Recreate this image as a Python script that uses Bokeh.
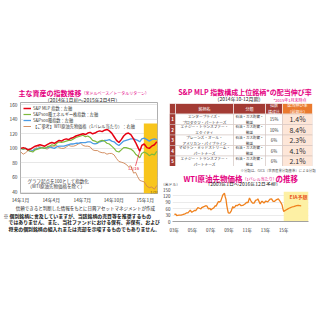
import pandas as pd
from bokeh.plotting import figure
from bokeh.models import (Range1d, Label, Legend, LegendItem, BoxAnnotation,
                          FixedTicker, Spacer, Arrow)
from bokeh.layouts import column, row
from bokeh.embed import file_html
from bokeh.resources import INLINE
from bokeh.core.properties import value

FONT = "Noto Sans CJK JP"
PINK = "#e4007f"

# ---------------- left chart data ----------------
idx_dates = ["2014-01-02","2014-01-09","2014-01-16","2014-01-23","2014-01-30",
             "2014-02-06","2014-02-13","2014-02-20","2014-02-27",
             "2014-03-06","2014-03-13","2014-03-20","2014-03-27",
             "2014-04-03","2014-04-10","2014-04-17","2014-04-24",
             "2014-05-01","2014-05-08","2014-05-15","2014-05-22","2014-05-29",
             "2014-06-05","2014-06-12","2014-06-19","2014-06-26",
             "2014-07-03","2014-07-10","2014-07-17","2014-07-24","2014-07-31",
             "2014-08-07","2014-08-14","2014-08-21","2014-08-28",
             "2014-09-04","2014-09-11","2014-09-18","2014-09-25",
             "2014-10-02","2014-10-09","2014-10-16","2014-10-23","2014-10-30",
             "2014-11-06","2014-11-13","2014-11-20","2014-11-28",
             "2014-12-04","2014-12-10","2014-12-16","2014-12-22","2014-12-29",
             "2015-01-06","2015-01-13","2015-01-20","2015-01-28","2015-02-04"]
mlp = [100,101,100,98,99, 101,103,104,105, 104,103,105,107, 108,107,109,111,
       110,112,113,112,114, 115,117,118,119, 120,119,121,122,120, 121,123,124,123,
       125,126,124,121, 116,111,108,112,117, 120,121,119,113, 108,102,96,104,106,
       101,100,103,105, 109]
energy = [100,99,100,97,96, 95,98,99,100, 101,100,102,103, 105,104,107,109,
          108,109,110,111,111, 113,115,116,117, 118,116,117,115,111, 110,108,110,111,
          110,107,106,103, 100,96,95,98,101, 101,100,99,96, 92,90,87,93,95,
          93,90,92,91, 96]
sp500 = [100,99,100,98,96, 97,99,100,101, 101,100,101,102, 101,100,102,103,
         103,103,104,105,106, 106,107,107,108, 108,108,109,109,107, 106,107,109,110,
         111,111,112,110, 109,106,104,107,110, 111,112,113,113, 112,111,109,113,114,
         112,110,112,113, 112]
wti_2014 = [95,92,94,97,98, 97,100,103,102, 101,100,99,101, 103,103,104,101,
            100,100,102,104,103, 103,104,106,107, 104,103,103,102,98, 97,97,95,94,
            94,92,93,93, 91,86,82,81,80, 78,75,76,66, 67,61,56,55,54,
            48,46,47,44, 49]
series_labels = ["S&P MLP 指数：左軸", "S&P500種エネルギー株指数：左軸",
                 "S&P500種指数：左軸", "【ご参考】WTI原油先物価格（1バレル当たり）：右軸"]
left_tick_dates = ["2014-01-01","2014-04-01","2014-07-01","2014-10-01","2015-01-01"]
left_tick_labels = ["14年1月","14年4月","14年7月","14年10月","15年1月"]
left_y_ticks = [40, 60, 80, 100, 120, 140, 160]

# ---------------- table data ----------------
ranks = ["1", "2", "3", "4", "5"]
names = ["エンタープライズ・\nプロダクツ・パートナーズ",
         "エナジー・トランスファー・\nエクイティ",
         "プレーンズ・オール・\nアメリカン・パイプライン",
         "マゼラン・ミッドストリーム・\nパートナーズ",
         "エナジー・トランスファー・\nパートナーズ"]
sectors = ["石油・ガス貯蔵・\n輸送"] * 5
weights = ["15%", "10%", "6%", "6%", "6%"]
growth = ["1.4%", "8.4%", "2.3%", "4.1%", "2.1%"]
headers = ["銘柄名", "分類", "指数\n構成比", "配当伸び率\n（前期比）"]

# ---------------- WTI long-term data ----------------
wti_dates = ["2003-01","2003-03","2003-04","2003-07","2003-10","2003-12",
             "2004-03","2004-05","2004-07","2004-08","2004-10","2004-12",
             "2005-02","2005-04","2005-05","2005-08","2005-10","2005-12",
             "2006-01","2006-04","2006-07","2006-08","2006-10","2006-12",
             "2007-01","2007-03","2007-05","2007-07","2007-08","2007-10","2007-11","2007-12",
             "2008-02","2008-03","2008-05","2008-07","2008-08","2008-09","2008-10","2008-11","2008-12",
             "2009-02","2009-04","2009-06","2009-07","2009-09","2009-10","2009-12",
             "2010-01","2010-03","2010-05","2010-07","2010-08","2010-10","2010-12",
             "2011-02","2011-04","2011-06","2011-08","2011-10","2011-12",
             "2012-02","2012-03","2012-06","2012-08","2012-09","2012-11",
             "2013-01","2013-02","2013-04","2013-07","2013-09","2013-11",
             "2014-01","2014-03","2014-06","2014-08","2014-10","2014-11","2014-12",
             "2015-01","2015-02","2015-04","2015-06","2015-08","2015-10","2015-12",
             "2016-02","2016-04","2016-06","2016-08","2016-10","2016-12"]
wti_vals = [33,35,28,30,30,32,
            36,40,41,45,53,43,
            48,53,50,65,62,59,
            65,70,74,72,59,62,
            54,60,64,74,72,86,94,91,
            95,105,125,133,116,104,77,57,41,
            39,50,70,64,69,76,74,
            78,81,74,76,77,82,89,
            89,110,96,86,86,99,
            102,106,82,94,94,86,
            95,95,92,105,106,94,
            95,101,106,96,84,76,59,
            47,50,54,58,62,65,68,
            70,72,74,75,74,73]
wti_tick_dates = ["2003-01-01","2005-01-01","2007-01-01","2009-01-01",
                  "2011-01-01","2013-01-01","2015-01-01"]
wti_tick_labels = ["03年","05年","07年","09年","11年","13年","15年"]
wti_y_ticks = [0, 30, 60, 90, 120, 150]


def ms(d):
    return pd.Timestamp(d).value / 1e6


def lab(p, x, y, text, size, color="#222222", bold=False, align="left"):
    p.add_layout(Label(x=x, y=y, text=text, text_font=FONT, text_font_size=size,
                       text_color=color, text_font_style="bold" if bold else "normal",
                       text_align=align, text_baseline="middle"))


def text_fig(w, h):
    f = figure(width=w, height=h, x_range=Range1d(0, w), y_range=Range1d(h, 0),
               x_axis_location=None, y_axis_location=None, output_backend="svg",
               toolbar_location=None, min_border=0, frame_align=False)
    f.grid.visible = False
    f.outline_line_color = None
    return f


# ================= LEFT COLUMN =================
t1 = text_fig(160, 16)            # page y 86..102
lab(t1, 18, 6, "主な資産の指数推移", "7px", PINK, True)
lab(t1, 81, 6.5, "（米ドルベース／トータルリターン）", "4px", PINK)
lab(t1, 82, 13.3, "（2014年1月初〜2015年2月4日）", "5px", "#222222", False, "center")

L0, L1 = ms("2014-01-01"), ms("2015-02-06")
p1 = figure(width=160, height=103, x_axis_type="datetime",      # page y 102..205
            x_range=Range1d(L0, L1), y_range=Range1d(38, 163),
            output_backend="svg", toolbar_location=None, frame_align=False,
            min_border_left=20, min_border_right=3, min_border_top=0, min_border_bottom=9)


def lx(px):
    return L0 + (px - 20) * (L1 - L0) / 137


def ly(py):
    return 163 - (py - 102) * 125 / 94


p1.add_layout(BoxAnnotation(left=ms("2014-12-28"), top=134, fill_color="#f8c51c",
                            fill_alpha=1, line_color=None, level="underlay"))
xs = [ms(d) for d in idx_dates]
r_wti = p1.line(xs, wti_2014, color="#cf8453", line_width=0.9)
r_sp = p1.line(xs, sp500, color="#4c9be3", line_width=1.3)
r_en = p1.line(xs, energy, color="#7dba3c", line_width=1.2)
r_mlp = p1.line(xs, mlp, color="#e60012", line_width=1.5)

p1.outline_line_color = "#9a9a9a"
p1.outline_line_width = 0.8
p1.xgrid.visible = False
p1.ygrid.grid_line_color = "#d6d6d6"
p1.ygrid.grid_line_width = 0.6
p1.yaxis.ticker = FixedTicker(ticks=left_y_ticks)
p1.xaxis.ticker = FixedTicker(ticks=[ms(d) for d in left_tick_dates])
p1.xaxis.major_label_overrides = {int(ms(d)): t for d, t in zip(left_tick_dates, left_tick_labels)}
for ax in (p1.xaxis, p1.yaxis):
    ax.major_label_text_font = FONT
    ax.major_label_text_font_size = "4.8px"
    ax.major_label_text_color = "#333333"
    ax.major_tick_out = 0
    ax.major_tick_in = 0
    ax.minor_tick_out = 0
    ax.minor_tick_in = 0
    ax.axis_line_color = None
p1.yaxis.major_label_standoff = 3
p1.xaxis.major_label_standoff = 2

legend = Legend(items=[LegendItem(label=series_labels[0], renderers=[r_mlp]),
                       LegendItem(label=series_labels[1], renderers=[r_en]),
                       LegendItem(label=series_labels[2], renderers=[r_sp]),
                       LegendItem(label=series_labels[3], renderers=[r_wti])],
                location="top_left", label_text_font=FONT, label_text_font_size="4.2px",
                label_text_color="#333333", label_height=4, glyph_height=4, glyph_width=8,
                spacing=0, padding=1, margin=3, label_standoff=2,
                background_fill_color="white", background_fill_alpha=1, border_line_color=None)
p1.add_layout(legend)

lab(p1, lx(27), ly(183), "グラフ起点を100として指数化", "4.5px", "#333333")
lab(p1, lx(27), ly(188.5), "（WTI原油先物価格を除く）", "4.5px", "#333333")
i16 = idx_dates.index("2014-12-16")
lab(p1, lx(133), ly(170), "12/16", "4.2px", "#e60012", False, "center")
p1.add_layout(Arrow(end=None, x_start=lx(135), y_start=ly(167.5), x_end=xs[i16], y_end=mlp[i16],
                    line_color="#e60012", line_width=0.6))
lab(p1, ms("2015-01-28"), 40.5, "1/28", "4px", "#6b5200", False, "center")

n1 = text_fig(160, 35)            # page y 205..240
lab(n1, 85, 2.6, "信頼できると判断した情報をもとに日興アセットマネジメントが作成",
    "4.5px", "#222222", False, "center")
lab(n1, 3, 9.5, "※ 個別銘柄に言及していますが、当該銘柄の売買等を推奨するもの", "4.9px", "#111111", True)
lab(n1, 8, 16.3, "ではありません。また、当社ファンドにおける保有、非保有、および", "4.9px", "#111111", True)
lab(n1, 8, 23, "将来の個別銘柄の組入れまたは売却を示唆するものでもありません。", "4.9px", "#111111", True)

# ================= RIGHT COLUMN =================
t2 = text_fig(160, 17)            # page y 86..103
lab(t2, 84.5, 5, "S&P MLP 指数構成上位銘柄*の配当伸び率", "7px", PINK, True, "center")
lab(t2, 78.5, 12, "（2014年10-12月期）", "5px", "#222222", False, "center")
lab(t2, 113, 13, "*2015年1月末時点", "4px", PINK)

COL_EDGES = [0, 6, 64, 96, 113, 143]
DARK = "#a33b34"
ORANGE = "#ea7a2e"
PEACH = "#fde6d8"
p2 = figure(width=160, height=63, x_range=Range1d(0, 143), y_range=Range1d(6, 0),   # page y 103..166
            x_axis_location=None, y_axis_location=None, output_backend="svg",
            toolbar_location=None, frame_align=False, min_border_left=9, min_border_right=8,
            min_border_top=0, min_border_bottom=0)
p2.grid.visible = False
p2.outline_line_color = None

ncol = len(COL_EDGES) - 1
hl, hr = COL_EDGES[:-1], COL_EDGES[1:]
p2.quad(left=hl, right=hr, top=[0] * ncol, bottom=[1] * ncol,
        fill_color=[DARK, DARK, DARK, DARK, ORANGE], line_color="white", line_width=0.6)
bl, br, bt, bb, bf = [], [], [], [], []
for r in range(1, len(ranks) + 1):
    for c in range(ncol):
        bl.append(COL_EDGES[c]); br.append(COL_EDGES[c + 1])
        bt.append(r); bb.append(r + 1)
        bf.append(DARK if c == 0 else (PEACH if c == ncol - 1 else "white"))
p2.quad(left=bl, right=br, top=bt, bottom=bb, fill_color=bf, line_color="#cdbdb8", line_width=0.5)

centers = [(COL_EDGES[i] + COL_EDGES[i + 1]) / 2 for i in range(ncol)]
rows_y = [i + 1.5 for i in range(len(ranks))]
p2.text(x=centers[1:], y=[0.5] * 4, text=headers, text_font=value(FONT), text_font_size="4px",
        text_color="white", text_align="center", text_baseline="middle", text_line_height=1.1)
p2.text(x=[centers[0]] * 5, y=rows_y, text=ranks, text_font=value(FONT), text_font_size="4.5px",
        text_color="white", text_font_style="bold", text_align="center", text_baseline="middle")
p2.text(x=[centers[1]] * 5, y=rows_y, text=names, text_font=value(FONT), text_font_size="3.7px",
        text_color="#333333", text_align="center", text_baseline="middle", text_line_height=1.15)
p2.text(x=[centers[2]] * 5, y=rows_y, text=sectors, text_font=value(FONT), text_font_size="3.5px",
        text_color="#333333", text_align="center", text_baseline="middle", text_line_height=1.15)
p2.text(x=[centers[3]] * 5, y=rows_y, text=weights, text_font=value(FONT), text_font_size="4.3px",
        text_color="#333333", text_align="center", text_baseline="middle")
p2.text(x=[centers[4]] * 5, y=rows_y, text=growth, text_font=value(FONT), text_font_size="7px",
        text_color="#333333", text_align="center", text_baseline="middle")

t3 = text_fig(160, 20)            # page y 166..186
lab(t3, 80, 4, "※分類は、GICS（世界産業分類基準）による分類", "3.4px", "#555555")
lab(t3, 23, 12, "WTI原油先物価格", "7.5px", PINK, True)
lab(t3, 82, 12.5, "（1バレル当たり）", "4px", PINK)
lab(t3, 115, 12, "の推移", "7.5px", PINK, True)
lab(t3, 82.5, 17.4, "（2003年1月〜2016年12月予想）", "5px", "#222222", False, "center")
lab(t3, 0.5, 17.8, "（米ドル）", "3.8px", "#333333")

W0, W1 = ms("2002-10-20"), ms("2017-09-20")
p3 = figure(width=160, height=54, x_axis_type="datetime",        # page y 186..240
            x_range=Range1d(W0, W1), y_range=Range1d(0, 150),
            output_backend="svg", toolbar_location=None, frame_align=False,
            min_border_left=11, min_border_right=12, min_border_top=3, min_border_bottom=19)


def wx(px):
    return W0 + (px - 171) * (W1 - W0) / 137


def wy(py):
    return 150 - (py - 189) * 150 / 32


p3.add_layout(BoxAnnotation(left=ms("2015-01-01"), top=140, fill_color="#fdf0a4",
                            fill_alpha=1, line_color=None, level="underlay"))
p3.line([ms(d) for d in wti_dates], wti_vals, color="#f0821e", line_width=1.3)
p3.outline_line_color = None
p3.xgrid.visible = False
p3.ygrid.grid_line_color = "#dedede"
p3.ygrid.grid_line_width = 0.6
p3.yaxis.ticker = FixedTicker(ticks=wti_y_ticks)
p3.xaxis.ticker = FixedTicker(ticks=[ms(d) for d in wti_tick_dates])
p3.xaxis.major_label_overrides = {int(ms(d)): t for d, t in zip(wti_tick_dates, wti_tick_labels)}
for ax in (p3.xaxis, p3.yaxis):
    ax.major_label_text_font = FONT
    ax.major_label_text_font_size = "4.5px"
    ax.major_label_text_color = "#333333"
    ax.major_tick_out = 0
    ax.major_tick_in = 0
    ax.minor_tick_out = 0
    ax.minor_tick_in = 0
p3.yaxis.axis_line_color = None
p3.yaxis.major_label_standoff = 2
p3.xaxis.axis_line_color = "#8a8a8a"
p3.xaxis.axis_line_width = 0.8
p3.xaxis.major_label_standoff = 5

lab(p3, wx(298), wy(196), "EIA予想", "5px", "#e8541e", True, "center")

layout = column(Spacer(width=320, height=86),
                row(column(t1, p1, n1), column(t2, p2, t3, p3)))

open("out.html", "w").write(file_html(layout, INLINE))
